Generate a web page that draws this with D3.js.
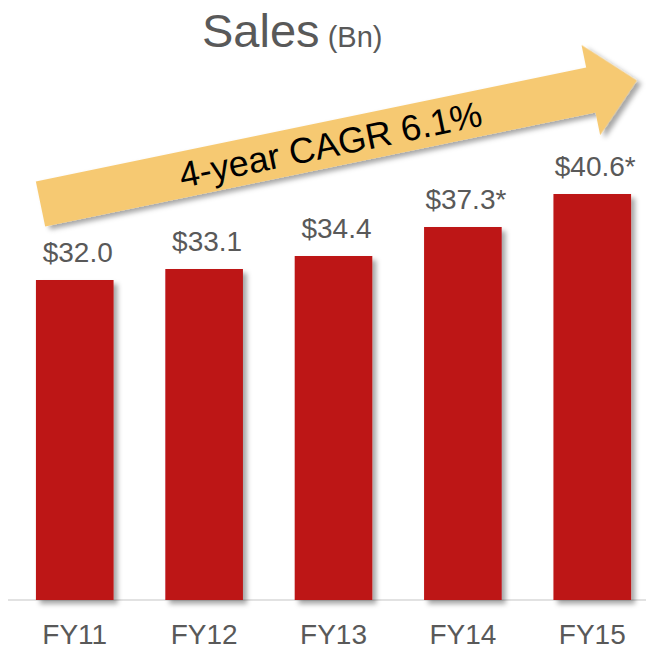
<!DOCTYPE html>
<html>
<head>
<meta charset="utf-8">
<script src="https://cdn.jsdelivr.net/npm/d3@7"></script>
<style>
  html, body { margin: 0; padding: 0; background: #fff; }
</style>
</head>
<body>
<div id="chart"></div>
<script>
// data
const years = ["FY11", "FY12", "FY13", "FY14", "FY15"];
const sales = [32.0, 33.1, 34.4, 37.3, 40.6];
const valueLabels = ["$32.0", "$33.1", "$34.4", "$37.3*", "$40.6*"];
const cagrLabel = "4-year CAGR 6.1%";

const width = 646;
const height = 650;
const baseline = 600;
const textColor = "#595959";
const barColor = "#BD1718";
const arrowColor = "#F6C972";
const font = "'Liberation Sans', Arial, sans-serif";

const svg = d3.select("#chart")
  .append("svg")
  .attr("width", width)
  .attr("height", height)
  .attr("font-family", font)
  .style("display", "block");

// soft drop shadow used by bars and arrow
const defs = svg.append("defs");
const shadow = defs.append("filter")
  .attr("id", "shadow")
  .attr("x", "-10%").attr("y", "-10%")
  .attr("width", "130%").attr("height", "130%");
shadow.append("feDropShadow")
  .attr("dx", 4).attr("dy", 4)
  .attr("stdDeviation", 2.5)
  .attr("flood-color", "#000")
  .attr("flood-opacity", 0.35);

// scales
const x = d3.scaleBand()
  .domain(years)
  .range([23, 644])
  .paddingInner(0.4)
  .paddingOuter(0.1);

const y = d3.scaleLinear()
  .domain([0, 60])
  .range([baseline, 0]);

// title
const title = svg.append("text")
  .attr("x", 202)
  .attr("y", 47)
  .attr("fill", textColor);
title.append("tspan").attr("font-size", 47).text("Sales");
title.append("tspan").attr("font-size", 29).text(" (Bn)");

// axis baseline
svg.append("line")
  .attr("x1", 8).attr("x2", width)
  .attr("y1", baseline).attr("y2", baseline)
  .attr("stroke", "#d9d9d9")
  .attr("stroke-width", 1.5);

// bars
svg.append("g")
  .selectAll("rect")
  .data(sales)
  .join("rect")
  .attr("x", (d, i) => x(years[i]))
  .attr("y", d => y(d))
  .attr("width", x.bandwidth())
  .attr("height", d => y(0) - y(d))
  .attr("fill", barColor)
  .attr("filter", "url(#shadow)");

// value labels
svg.append("g")
  .selectAll("text")
  .data(sales)
  .join("text")
  .attr("x", (d, i) => x(years[i]) + x.bandwidth() / 2 + 3)
  .attr("y", d => y(d) - 18)
  .attr("text-anchor", "middle")
  .attr("font-size", 28)
  .attr("fill", textColor)
  .text((d, i) => valueLabels[i]);

// category labels
svg.append("g")
  .selectAll("text")
  .data(years)
  .join("text")
  .attr("x", d => x(d) + x.bandwidth() / 2)
  .attr("y", 644)
  .attr("text-anchor", "middle")
  .attr("font-size", 28)
  .attr("fill", textColor)
  .text(d => d);

// growth arrow (drawn in its own rotated frame)
const shaftLen = 562, shaftHalf = 23, headHalf = 46, headLen = 47;
const arrow = svg.append("g")
  .attr("transform", "translate(40.5,204) rotate(-11.7)");
arrow.append("path")
  .attr("d", d3.line()([
    [0, -shaftHalf], [shaftLen, -shaftHalf], [shaftLen, -headHalf],
    [shaftLen + headLen, 0], [shaftLen, headHalf], [shaftLen, shaftHalf],
    [0, shaftHalf]
  ]) + "Z")
  .attr("fill", arrowColor)
  .attr("filter", "url(#shadow)");
arrow.append("text")
  .attr("x", 296)
  .attr("y", 13)
  .attr("text-anchor", "middle")
  .attr("font-size", 36)
  .attr("fill", "#000")
  .text(cagrLabel);
</script>
</body>
</html>
